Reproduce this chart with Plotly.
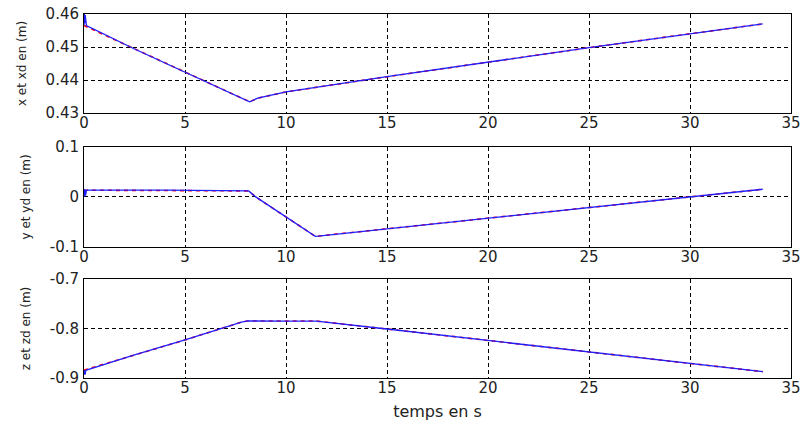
import plotly.graph_objects as go
from plotly.subplots import make_subplots

# ---- data ----
t_x = [0, 0.02, 0.04, 0.06, 0.08, 0.12, 2.5, 5, 7, 8, 8.2, 8.6, 10, 15, 20, 25, 30, 33.6]
x_real = [0.4565, 0.4600, 0.4572, 0.4597, 0.4570, 0.4565, 0.4494, 0.4424, 0.4367, 0.4339, 0.4334,
          0.4345, 0.4364, 0.4410, 0.4455, 0.4498, 0.4540, 0.4570]
t_xd = [0, 2.5, 5, 7, 8, 8.2, 8.6, 10, 15, 20, 25, 30, 33.6]
x_des = [0.4565, 0.4494, 0.4424, 0.4367, 0.4339, 0.4334, 0.4345, 0.4364, 0.4410, 0.4455, 0.4498,
         0.4540, 0.4570]

t_y = [0, 0.02, 0.04, 0.06, 0.08, 0.12, 4, 8.0, 8.15, 8.5, 10, 11.45, 11.6, 15, 20, 25, 30, 33.6]
y_real = [0.0134, 0.0150, 0.0010, 0.0148, 0.0030, 0.0134, 0.0134, 0.0134, 0.0120, 0.0000, -0.0405,
          -0.0787, -0.0782, -0.0637, -0.0425, -0.0212, 0.0000, 0.0153]
t_yd = [0, 4, 8.0, 8.15, 8.5, 10, 11.45, 11.6, 15, 20, 25, 30, 33.6]
y_des = [0.0134, 0.0134, 0.0134, 0.0120, 0.0000, -0.0405, -0.0787, -0.0782, -0.0637, -0.0425,
         -0.0212, 0.0000, 0.0153]

t_z = [0, 0.02, 0.04, 0.06, 0.08, 0.12, 2.5, 5, 7.8, 8.1, 10, 11.5, 15, 20, 25, 30, 33.6]
z_real = [-0.8840, -0.8935, -0.8850, -0.8930, -0.8860, -0.8840, -0.8535, -0.8232, -0.7870, -0.7848,
          -0.7850, -0.7850, -0.8010, -0.8240, -0.8470, -0.8705, -0.8872]
t_zd = [0, 2.5, 5, 7.8, 8.1, 10, 11.5, 15, 20, 25, 30, 33.6]
z_des = [-0.8840, -0.8535, -0.8232, -0.7870, -0.7848, -0.7850, -0.7850, -0.8010, -0.8240, -0.8470,
         -0.8705, -0.8872]

x_ticks = [0, 5, 10, 15, 20, 25, 30, 35]
y1_ticks = [0.43, 0.44, 0.45, 0.46]
y1_text = ["0.43", "0.44", "0.45", "0.46"]
y2_ticks = [-0.1, 0, 0.1]
y2_text = ["-0.1", "0", "0.1"]
y3_ticks = [-0.9, -0.8, -0.7]
y3_text = ["-0.9", "-0.8", "-0.7"]

y_titles = ["x et xd en (m)", "y et yd en (m)", "z et zd en (m)"]
x_title = "temps en s"

# ---- figure ----
W, H = 804, 421
fig = make_subplots(rows=3, cols=1, shared_xaxes=False)

series = [(t_xd, x_des, t_x, x_real), (t_yd, y_des, t_y, y_real), (t_zd, z_des, t_z, z_real)]
for i, (td, vd, tr, vr) in enumerate(series, start=1):
    fig.add_trace(go.Scatter(x=td, y=vd, mode="lines",
                             line=dict(color="#ff0000", width=1.6, dash="4px,4px"),
                             showlegend=False), row=i, col=1)
    fig.add_trace(go.Scatter(x=tr, y=vr, mode="lines",
                             line=dict(color="#1f1fff", width=1.3),
                             showlegend=False), row=i, col=1)

font_fam = "DejaVu Sans, Liberation Sans, Arial"
domains = [[0.728, 1.0], [0.360, 0.635], [0.0, 0.272]]
yranges = [[0.43, 0.46], [-0.1, 0.1], [-0.9, -0.7]]
yticks = [(y1_ticks, y1_text), (y2_ticks, y2_text), (y3_ticks, y3_text)]

for i in range(3):
    xa = "xaxis" if i == 0 else f"xaxis{i+1}"
    ya = "yaxis" if i == 0 else f"yaxis{i+1}"
    fig.layout[xa].update(
        range=[0, 35], tickvals=x_ticks, showline=True, mirror=True, linecolor="black",
        linewidth=1, showgrid=True, gridcolor="black", gridwidth=1, griddash="4px,3px",
        zeroline=False, ticks="", tickfont=dict(family=font_fam, size=15, color="#222"),
        ticklabelstandoff=-4, automargin=False,
    )
    fig.layout[ya].update(
        domain=domains[i], range=yranges[i], tickvals=yticks[i][0], ticktext=yticks[i][1],
        showline=True, mirror=True, linecolor="black", linewidth=1, showgrid=True,
        gridcolor="black", gridwidth=1, griddash="4px,3px", zeroline=False, ticks="",
        tickfont=dict(family=font_fam, size=15, color="#222"), ticklabelstandoff=1,
        automargin=False,
        title=dict(text=y_titles[i], font=dict(family=font_fam, size=12, color="#222"), standoff=16),
    )
fig.layout["xaxis3"].title = dict(text=x_title, font=dict(family=font_fam, size=16, color="#222"), standoff=14)

fig.update_layout(
    width=W, height=H, margin=dict(l=84, r=13, t=14, b=43),
    paper_bgcolor="white", plot_bgcolor="white",
)

fig.write_html("out.html")
